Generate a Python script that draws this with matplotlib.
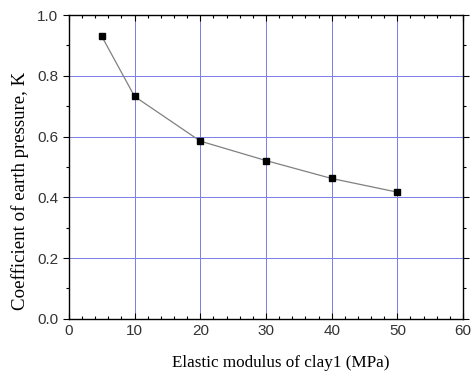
import matplotlib
matplotlib.use("Agg")
import matplotlib.pyplot as plt
from matplotlib.ticker import MultipleLocator

modulus = [5, 10, 20, 30, 40, 50]
k_values = [0.930, 0.732, 0.585, 0.521, 0.462, 0.417]
x_ticks = [0, 10, 20, 30, 40, 50, 60]
y_ticks = [0.0, 0.2, 0.4, 0.6, 0.8, 1.0]

fig = plt.figure(figsize=(4.72, 3.76), dpi=100)
ax = fig.add_axes([0.146, 0.152, 0.835, 0.808])

ax.plot(modulus, k_values, color="#808080", lw=0.9, marker="s", ms=5,
        mfc="black", mec="black", zorder=3)

ax.set_xlim(0, 60)
ax.set_ylim(0, 1.0)
ax.set_xticks(x_ticks)
ax.set_yticks(y_ticks)
ax.set_yticklabels([f"{v:.1f}" for v in y_ticks])
ax.xaxis.set_minor_locator(MultipleLocator(2))
ax.yaxis.set_minor_locator(MultipleLocator(0.1))
ax.grid(True, which="major", color="#7b7be8", lw=0.7)

ax.tick_params(which="both", top=True, right=True, direction="in", labelsize=11, width=0.8,
               labelcolor="#333333")
ax.tick_params(axis="y", which="both", left=True, direction="out")
ax.tick_params(which="major", length=4)
ax.tick_params(which="minor", length=2.5)
for lab in ax.get_xticklabels() + ax.get_yticklabels():
    lab.set_family("Liberation Sans")
for s in ax.spines.values():
    s.set_linewidth(1.0)

ax.set_xlabel("Elastic modulus of clay1 (MPa)", family="Liberation Serif", fontsize=12.3,
              va="center")
ax.xaxis.set_label_coords(0.538, -0.145)
ax.set_ylabel("Coefficient of earth pressure, K", family="Liberation Serif", fontsize=13.6,
              va="center")
ax.yaxis.set_label_coords(-0.124, 0.42)

fig.savefig("out.png", dpi=100)
